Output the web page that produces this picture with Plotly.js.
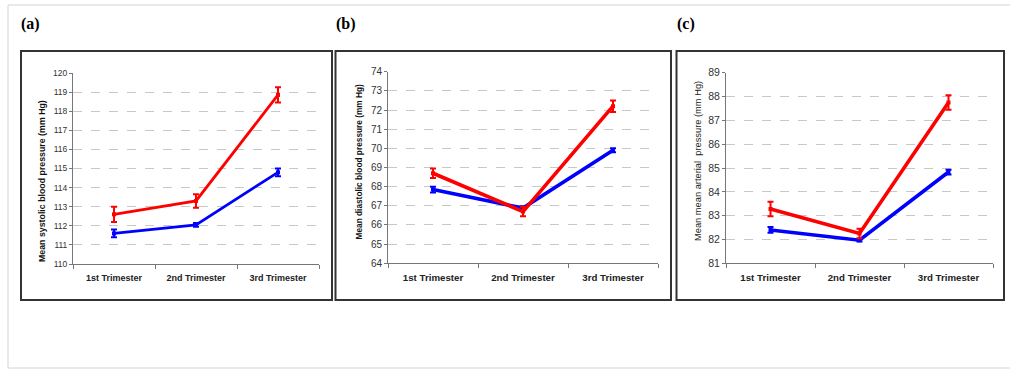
<!DOCTYPE html>
<html>
<head>
<meta charset="utf-8">
<script src="https://cdn.plot.ly/plotly-3.0.1.min.js"></script>
<style>html,body{margin:0;padding:0;background:#fff;}#chart{width:1010px;height:370px;}</style>
</head>
<body>
<div id="chart"></div>
<script>
// ---- data ----
var categories = ['1st Trimester', '2nd Trimester', '3rd Trimester'];

var sbpRed = [112.6, 113.3, 118.85];
var sbpRedErr = [0.4, 0.35, 0.4];
var sbpBlue = [111.6, 112.05, 114.8];
var sbpBlueErr = [0.2, 0.1, 0.2];

var dbpRed = [68.7, 66.7, 72.2];
var dbpRedErr = [0.25, 0.25, 0.3];
var dbpBlue = [67.85, 66.88, 69.9];
var dbpBlueErr = [0.15, 0.1, 0.1];

var mapRed = [83.28, 82.25, 87.75];
var mapRedErr = [0.3, 0.2, 0.3];
var mapBlue = [82.4, 81.97, 84.83];
var mapBlueErr = [0.12, 0.06, 0.1];

var yTitles = ['Mean systolic blood pressure (mm Hg)', 'Mean diastolic blood pressure (mm Hg)', 'Mean mean arterial  pressure (mm Hg)'];
var panelLabels = ['(a)', '(b)', '(c)'];

// ---- helpers ----
var W = 1010, H = 370;
function px(x) { return x / W; }
function py(y) { return 1 - y / H; }
var RED = '#ff0000', BLUE = '#0000ff';
var SANS = 'Liberation Sans, Arial, sans-serif';

function trace(y, err, color, xa, ya, lw) {
  return {
    x: categories, y: y, type: 'scatter', mode: 'lines+markers',
    xaxis: xa, yaxis: ya,
    line: { color: color, width: lw },
    marker: { color: color, size: 4, symbol: 'square' },
    error_y: { type: 'data', array: err, visible: true, color: color, thickness: 2, width: 3 },
    showlegend: false, hoverinfo: 'x+y'
  };
}

var data = [
  trace(sbpBlue, sbpBlueErr, BLUE, 'x', 'y', 2.8),
  trace(sbpRed, sbpRedErr, RED, 'x', 'y', 2.8),
  trace(dbpBlue, dbpBlueErr, BLUE, 'x2', 'y2', 3.6),
  trace(dbpRed, dbpRedErr, RED, 'x2', 'y2', 3.6),
  trace(mapBlue, mapBlueErr, BLUE, 'x3', 'y3', 3.6),
  trace(mapRed, mapRedErr, RED, 'x3', 'y3', 3.6)
];

function xAxis(domain, fs, anchor) {
  return {
    domain: domain, anchor: anchor, type: 'category',
    range: [-0.5, 2.5], tickson: 'boundaries',
    ticks: 'outside', ticklen: 4, tickcolor: '#777', tickwidth: 1,
    showline: true, linecolor: '#777', linewidth: 1,
    showgrid: false, zeroline: false, fixedrange: true,
    ticklabelstandoff: 5,
    tickfont: { family: SANS, size: fs, color: '#222', weight: 'bold' }
  };
}
function yAxis(domain, range, fs, anchor) {
  return {
    domain: domain, anchor: anchor, range: range, dtick: 1, tick0: range[0],
    ticks: 'outside', ticklen: 3, tickcolor: '#777', tickwidth: 1,
    showline: true, linecolor: '#777', linewidth: 1,
    showgrid: true, gridcolor: '#c8c8c8', griddash: 'dash', gridwidth: 1,
    zeroline: false, fixedrange: true,
    tickfont: { family: SANS, size: fs, color: '#333' }
  };
}

var layout = {
  width: W, height: H, autosize: false,
  margin: { l: 0, r: 0, t: 0, b: 0, pad: 0 },
  paper_bgcolor: '#fff', plot_bgcolor: 'rgba(0,0,0,0)',
  xaxis: xAxis([px(73), px(319)], 9, 'y'),
  yaxis: yAxis([py(264), py(73)], [110, 120], 8.5, 'x'),
  xaxis2: xAxis([px(388), px(658)], 9.7, 'y2'),
  yaxis2: yAxis([py(263.3), py(71.7)], [64, 74], 10, 'x2'),
  xaxis3: xAxis([px(726), px(993)], 9.7, 'y3'),
  yaxis3: yAxis([py(263.3), py(72.7)], [81, 89], 10.5, 'x3'),
  shapes: [
    { type: 'rect', xref: 'paper', yref: 'paper', x0: px(8), x1: px(1020), y0: py(368), y1: py(5),
      line: { color: '#d4d4d4', width: 1 }, layer: 'below' },
    { type: 'rect', xref: 'paper', yref: 'paper', x0: px(21), x1: px(332), y0: py(300), y1: py(51),
      line: { color: '#333', width: 2 }, layer: 'below' },
    { type: 'rect', xref: 'paper', yref: 'paper', x0: px(335.5), x1: px(671), y0: py(300), y1: py(51),
      line: { color: '#333', width: 2 }, layer: 'below' },
    { type: 'rect', xref: 'paper', yref: 'paper', x0: px(676.5), x1: px(1004), y0: py(300), y1: py(51),
      line: { color: '#333', width: 2 }, layer: 'below' }
  ],
  annotations: [
    { text: panelLabels[0], xref: 'paper', yref: 'paper', x: px(19), y: py(24), xanchor: 'left', yanchor: 'middle',
      showarrow: false, font: { family: 'Liberation Serif, Times New Roman, serif', size: 16, color: '#000', weight: 'bold' } },
    { text: panelLabels[1], xref: 'paper', yref: 'paper', x: px(334), y: py(24), xanchor: 'left', yanchor: 'middle',
      showarrow: false, font: { family: 'Liberation Serif, Times New Roman, serif', size: 16, color: '#000', weight: 'bold' } },
    { text: panelLabels[2], xref: 'paper', yref: 'paper', x: px(675), y: py(24), xanchor: 'left', yanchor: 'middle',
      showarrow: false, font: { family: 'Liberation Serif, Times New Roman, serif', size: 16, color: '#000', weight: 'bold' } },
    { text: yTitles[0], xref: 'paper', yref: 'paper', x: px(42), y: py(181), xanchor: 'center', yanchor: 'middle',
      textangle: -90, showarrow: false, font: { family: SANS, size: 8.8, color: '#111', weight: 'bold' } },
    { text: yTitles[1], xref: 'paper', yref: 'paper', x: px(358), y: py(161.5), xanchor: 'center', yanchor: 'middle',
      textangle: -90, showarrow: false, font: { family: SANS, size: 8.3, color: '#111', weight: 'bold' } },
    { text: yTitles[2], xref: 'paper', yref: 'paper', x: px(698), y: py(161), xanchor: 'center', yanchor: 'middle',
      textangle: -90, showarrow: false, font: { family: SANS, size: 9.3, color: '#222' } }
  ]
};

Plotly.newPlot('chart', data, layout, { staticPlot: true, displayModeBar: false });
</script>
</body>
</html>
